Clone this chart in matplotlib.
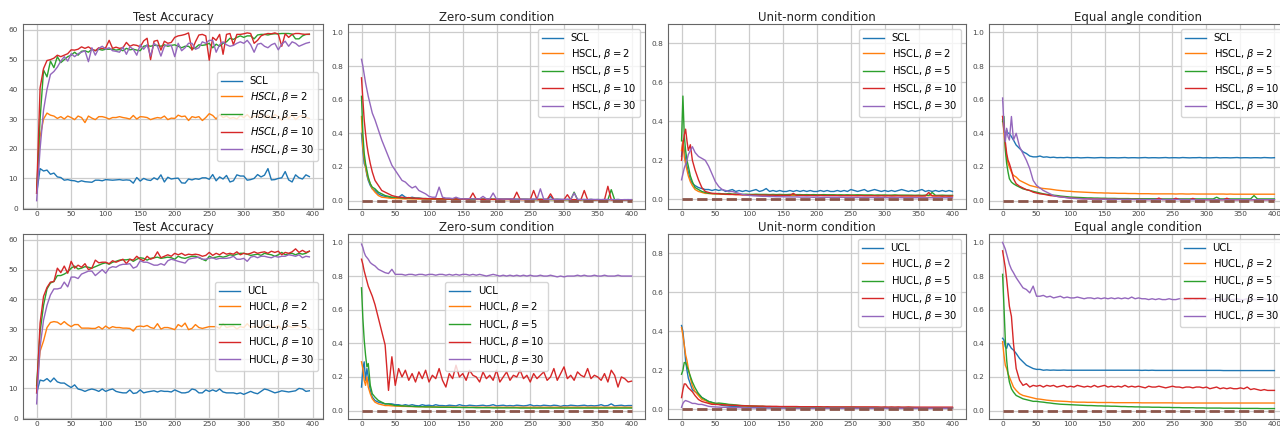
import matplotlib
matplotlib.use("Agg")
import matplotlib.pyplot as plt

# ---------------- data ----------------
epochs_acc = list(range(0, 400, 5))
epochs_cond = [0, 2, 4, 6, 8, 10, 13, 16, 20] + list(range(25, 401, 5))

titles = ["Test Accuracy", "Zero-sum condition", "Unit-norm condition", "Equal angle condition"]
betas = [2, 5, 10, 30]

# --- top row: SCL / HSCL ---
acc_scl = [5.0, 13.3, 12.5, 12.8, 11.4, 11.8, 10.5, 10.3, 9.4, 9.6,
           9.3, 9.2, 8.8, 9.2, 8.9, 8.8, 8.7, 9.4, 9.4, 9.2,
           9.6, 9.5, 9.4, 9.5, 9.6, 9.4, 9.5, 9.4, 8.4, 10.3,
           9.1, 10.0, 9.5, 9.3, 10.2, 9.6, 11.2, 8.8, 10.4, 9.8,
           10.0, 10.1, 8.5, 8.4, 9.8, 9.5, 9.9, 9.7, 10.2, 10.2,
           9.7, 11.3, 9.2, 10.5, 9.8, 11.0, 8.8, 9.2, 11.2, 10.8,
           10.8, 9.4, 9.6, 10.0, 11.3, 10.5, 11.1, 13.3, 9.5, 9.6,
           10.0, 10.2, 12.3, 9.5, 8.8, 11.2, 10.2, 9.8, 11.2, 10.6]
acc_h2 = [5.0, 24.0, 30.0, 32.0, 31.3, 31.0, 30.2, 30.8, 30.0, 31.0,
          30.5, 29.8, 31.0, 30.5, 28.8, 31.0, 30.3, 29.8, 30.8, 30.8,
          30.5, 30.0, 30.5, 30.5, 30.8, 30.5, 30.3, 30.0, 31.2, 30.0,
          30.8, 30.7, 30.5, 29.8, 30.2, 30.5, 30.3, 31.0, 29.8, 30.3,
          30.2, 31.3, 30.8, 31.0, 29.5, 30.8, 30.5, 30.8, 29.5, 30.5,
          31.8, 31.2, 30.0, 31.5, 30.5, 31.0, 30.2, 30.5, 30.0, 31.2,
          30.5, 31.5, 30.2, 31.0, 30.8, 32.0, 30.5, 31.2, 30.0, 31.5,
          30.8, 29.5, 31.0, 30.2, 31.5, 29.8, 30.8, 31.2, 30.5, 30.2]
acc_h5 = [5.5, 30.0, 46.5, 44.2, 49.5, 47.3, 51.0, 49.0, 50.0, 51.0,
          51.5, 52.5, 51.5, 52.8, 53.0, 52.5, 53.5, 53.0, 53.5, 53.2,
          53.5, 53.5, 53.5, 53.2, 53.4, 53.0, 53.8, 53.3, 53.5, 53.2,
          53.0, 54.5, 54.8, 54.5, 54.8, 54.8, 54.5, 55.0, 54.5, 54.8,
          55.0, 54.5, 54.0, 54.5, 54.5, 53.5, 54.0, 55.0, 54.8, 55.0,
          55.5, 54.0, 55.2, 54.5, 55.5, 56.0, 57.2, 56.8, 57.5, 58.0,
          57.5, 58.0, 58.0, 57.0, 58.3, 58.5, 58.5, 58.3, 58.6, 58.7,
          58.7, 58.8, 58.8, 58.8, 58.6, 57.0, 57.0, 58.0, 58.5, 58.5]
acc_h10 = [5.0, 40.5, 47.0, 49.7, 50.0, 50.5, 51.5, 51.0, 51.5, 52.0,
           53.3, 53.2, 53.5, 54.3, 53.8, 54.3, 53.5, 53.0, 54.0, 53.7,
           54.0, 56.5, 53.8, 54.2, 53.8, 54.0, 55.8, 54.5, 55.0, 54.8,
           54.3, 56.3, 57.2, 50.0, 56.2, 56.5, 53.2, 56.2, 55.5, 55.8,
           57.5, 58.0, 58.2, 58.5, 59.0, 53.2, 56.0, 58.3, 58.5, 58.0,
           49.8, 57.5, 56.5, 58.5, 51.8, 58.5, 58.8, 55.0, 58.5, 58.5,
           58.7, 59.0, 58.8, 55.5, 56.5, 58.0, 58.5, 58.8, 58.7, 59.0,
           58.6, 54.5, 58.7, 57.5, 58.5, 58.8, 58.8, 58.6, 58.5, 58.6]
acc_h30 = [2.5, 20.0, 33.0, 40.0, 45.0, 46.0, 47.5, 49.5, 51.0, 49.5,
           52.0, 51.0, 52.0, 52.5, 53.0, 49.3, 54.0, 51.5, 53.8, 54.5,
           53.5, 54.0, 53.0, 52.8, 52.5, 54.2, 51.8, 54.3, 53.5, 51.5,
           55.0, 53.5, 55.0, 51.2, 55.5, 54.5, 51.2, 54.5, 55.0, 54.8,
           51.0, 55.5, 53.0, 54.0, 55.5, 55.5, 53.5, 54.0, 56.0, 55.5,
           56.5, 56.5, 52.5, 55.0, 56.0, 55.0, 54.5, 54.8, 55.5, 56.0,
           55.5, 56.5, 55.0, 52.5, 55.2, 55.5, 54.5, 54.0, 55.0, 55.5,
           53.3, 55.2, 56.2, 54.5, 56.0, 55.5, 54.5, 55.0, 55.5, 55.8]

zs_scl = [.40, .30, .22, .20, .15, .12, .09, .07, .06,
          .04, .03, .025, .02, .018, .015, .02, .035, .02, .015,
          .02, .015, .015, .012, .01, .012, .01, .011, .009, .01,
          .01, .008, .01, .009, .012, .008, .01, .009, .008, .01,
          .008, .009, .008, .01, .007, .008, .009, .007, .008, .007,
          .008, .007, .006, .008, .007, .006, .007, .006, .008, .006,
          .007, .025, .006, .007, .006, .005, .007, .006, .005, .006,
          .005, .006, .005, .007, .005, .006, .005, .006, .005, .006,
          .005, .006, .005, .005, .006, .005]
zs_h2 = [.50, .32, .25, .20, .16, .13, .10, .07, .05,
         .03, .02, .018, .015, .013, .012, .012, .011, .01, .011,
         .01, .01, .009, .01, .009, .009, .008, .009, .008, .009,
         .008, .008, .007, .008, .007, .008, .007, .007, .008, .007,
         .007, .006, .007, .006, .007, .006, .006, .007, .006, .006,
         .006, .005, .006, .006, .005, .006, .005, .006, .005, .005,
         .005, .006, .005, .005, .004, .005, .005, .004, .005, .005,
         .004, .005, .004, .005, .004, .005, .004, .004, .005, .004,
         .004, .005, .004, .004, .005, .004]
zs_h5 = [.62, .40, .28, .22, .18, .14, .10, .08, .07,
         .05, .04, .03, .025, .02, .02, .018, .016, .015, .015,
         .014, .013, .013, .012, .012, .011, .011, .011, .010, .011,
         .010, .010, .009, .010, .009, .009, .009, .009, .008, .009,
         .008, .008, .009, .008, .008, .008, .007, .008, .007, .008,
         .007, .007, .008, .007, .007, .007, .006, .007, .007, .006,
         .007, .006, .006, .007, .006, .006, .006, .006, .05, .006,
         .006, .006, .005, .006, .005, .006, .005, .005, .005, .065,
         .005, .006, .005, .005, .005, .005]
zs_h10 = [.73, .60, .48, .40, .33, .28, .22, .17, .12,
          .09, .06, .05, .04, .03, .025, .02, .02, .015, .018,
          .015, .014, .013, .012, .012, .011, .011, .010, .011, .010,
          .010, .009, .010, .009, .009, .009, .008, .009, .045, .008,
          .008, .008, .007, .008, .007, .008, .007, .007, .008, .007,
          .007, .05, .007, .006, .007, .006, .06, .006, .006, .007,
          .006, .04, .006, .006, .005, .006, .035, .005, .006, .005,
          .005, .06, .005, .006, .005, .005, .005, .005, .085, .005,
          .005, .005, .004, .005, .005, .004]
zs_h30 = [.84, .80, .75, .70, .66, .62, .57, .52, .48,
          .42, .36, .31, .26, .21, .18, .15, .12, .11, .09,
          .075, .085, .06, .05, .04, .025, .02, .02, .08, .02,
          .015, .015, .012, .02, .012, .01, .01, .012, .01, .01,
          .01, .025, .01, .01, .045, .009, .01, .009, .009, .01,
          .009, .008, .009, .008, .008, .008, .009, .008, .07, .008,
          .008, .007, .008, .007, .008, .007, .007, .007, .045, .007,
          .007, .006, .007, .006, .007, .006, .006, .007, .006, .006,
          .006, .006, .005, .006, .005, .006]

un_scl = [.22, .30, .25, .20, .17, .14, .10, .08, .07,
          .06, .055, .05, .05, .045, .05, .045, .05, .04, .045,
          .05, .04, .045, .04, .045, .04, .045, .05, .04, .045,
          .055, .04, .045, .04, .045, .04, .04, .045, .04, .045,
          .04, .045, .04, .045, .04, .04, .045, .04, .045, .04,
          .04, .045, .04, .045, .04, .05, .045, .04, .045, .05,
          .04, .045, .05, .045, .04, .045, .04, .045, .04, .045,
          .05, .045, .04, .045, .04, .045, .05, .04, .045, .04,
          .045, .04, .045, .04, .045, .04]
un_h2 = [.25, .30, .22, .18, .15, .12, .09, .07, .05,
         .04, .035, .03, .03, .028, .028, .027, .026, .025, .025,
         .025, .024, .024, .023, .023, .023, .022, .022, .022, .022,
         .022, .021, .021, .021, .021, .021, .02, .02, .02, .02,
         .02, .02, .02, .02, .02, .02, .02, .02, .02, .02,
         .02, .02, .02, .019, .02, .019, .02, .019, .02, .019,
         .019, .02, .019, .019, .02, .019, .019, .019, .02, .019,
         .019, .019, .019, .018, .019, .019, .018, .019, .018, .019,
         .018, .019, .018, .018, .018, .018]
un_h5 = [.30, .53, .33, .25, .20, .17, .12, .09, .06,
         .05, .04, .035, .03, .03, .028, .03, .028, .027, .03,
         .026, .027, .026, .025, .026, .025, .025, .026, .025, .025,
         .025, .024, .025, .024, .025, .024, .024, .025, .024, .024,
         .024, .023, .024, .023, .024, .023, .023, .024, .023, .023,
         .023, .022, .023, .022, .023, .022, .022, .023, .022, .022,
         .022, .022, .021, .022, .021, .022, .021, .021, .022, .021,
         .021, .021, .021, .021, .02, .021, .02, .021, .02, .035,
         .02, .02, .021, .02, .02, .02]
un_h10 = [.20, .28, .33, .36, .30, .25, .28, .20, .15,
          .10, .06, .04, .035, .03, .03, .028, .027, .026, .025,
          .025, .024, .024, .023, .023, .022, .022, .022, .021, .022,
          .021, .021, .021, .02, .021, .02, .02, .02, .03, .02,
          .02, .02, .019, .02, .019, .019, .02, .019, .019, .019,
          .019, .019, .018, .019, .018, .019, .018, .018, .019, .018,
          .018, .018, .018, .017, .018, .017, .018, .017, .017, .018,
          .017, .017, .017, .017, .017, .017, .017, .017, .035, .017,
          .017, .017, .016, .017, .016, .017]
un_h30 = [.10, .13, .16, .18, .20, .23, .25, .27, .24,
          .22, .21, .20, .17, .13, .09, .065, .05, .045, .04,
          .04, .035, .03, .025, .022, .02, .018, .017, .016, .015,
          .015, .014, .014, .013, .013, .013, .012, .012, .012, .012,
          .011, .011, .011, .011, .01, .011, .01, .01, .01, .01,
          .01, .01, .01, .01, .009, .01, .009, .009, .01, .009,
          .009, .009, .009, .009, .009, .009, .008, .009, .008, .009,
          .008, .008, .008, .008, .008, .008, .008, .008, .008, .008,
          .008, .008, .008, .008, .008, .008]

ea_scl = [.48, .42, .38, .42, .40, .40, .38, .36, .33,
          .31, .29, .28, .265, .26, .26, .265, .258, .26, .256,
          .258, .255, .256, .255, .257, .255, .255, .256, .254, .255,
          .256, .255, .254, .255, .256, .255, .254, .255, .255, .254,
          .255, .256, .254, .255, .255, .254, .255, .256, .254, .255,
          .255, .254, .255, .256, .254, .255, .255, .254, .256, .255,
          .254, .255, .255, .256, .254, .255, .254, .255, .256, .254,
          .255, .255, .254, .255, .256, .254, .255, .255, .254, .255,
          .255, .254, .256, .255, .254, .255]
ea_h2 = [.50, .40, .32, .26, .22, .20, .17, .15, .14,
         .12, .11, .10, .09, .085, .08, .075, .072, .07, .068,
         .065, .062, .06, .058, .056, .055, .053, .052, .051, .05,
         .049, .048, .047, .046, .046, .045, .045, .044, .044, .043,
         .043, .043, .042, .042, .042, .041, .041, .041, .041, .040,
         .040, .040, .040, .040, .040, .040, .039, .040, .040, .039,
         .039, .040, .039, .039, .039, .039, .039, .039, .039, .039,
         .039, .038, .039, .038, .038, .038, .038, .038, .038, .038,
         .038, .038, .038, .038, .038, .038]
ea_h5 = [.47, .50, .30, .22, .17, .13, .11, .10, .09,
         .08, .07, .065, .06, .055, .05, .045, .04, .037, .035,
         .032, .03, .027, .025, .023, .021, .02, .019, .018, .017,
         .016, .016, .015, .015, .014, .014, .013, .013, .013, .012,
         .012, .012, .012, .011, .011, .011, .011, .011, .011, .011,
         .011, .01, .01, .01, .01, .01, .01, .01, .01, .01,
         .01, .01, .01, .01, .01, .01, .01, .01, .02, .01,
         .01, .01, .01, .01, .01, .01, .01, .01, .01, .03,
         .01, .01, .01, .01, .01, .01]
ea_h10 = [.50, .45, .35, .28, .24, .22, .18, .13, .10,
          .085, .075, .065, .06, .05, .045, .04, .038, .034, .03,
          .028, .025, .022, .02, .018, .015, .014, .013, .012, .011,
          .011, .01, .01, .009, .009, .009, .008, .008, .008, .008,
          .007, .007, .007, .007, .007, .007, .007, .006, .006, .006,
          .006, .015, .006, .006, .006, .006, .014, .006, .006, .006,
          .005, .013, .005, .005, .005, .005, .005, .005, .005, .005,
          .005, .014, .005, .005, .005, .005, .005, .005, .005, .005,
          .005, .005, .005, .005, .005, .005]
ea_h30 = [.61, .45, .35, .43, .38, .36, .50, .36, .40,
          .32, .28, .24, .19, .12, .09, .075, .06, .05, .04,
          .03, .025, .022, .02, .017, .015, .013, .012, .011, .01,
          .01, .009, .009, .009, .008, .008, .008, .008, .007, .007,
          .007, .007, .007, .007, .006, .006, .006, .006, .006, .006,
          .006, .006, .006, .006, .006, .006, .006, .006, .006, .006,
          .005, .005, .005, .005, .005, .005, .005, .005, .005, .005,
          .005, .005, .005, .005, .005, .005, .005, .005, .005, .005,
          .005, .005, .005, .005, .005, .005]

# --- bottom row: UCL / HUCL ---
acc_ucl = [8.5, 12.8, 12.5, 13.3, 12.2, 13.5, 12.2, 11.8, 11.8, 11.0,
           10.3, 11.2, 9.8, 9.5, 9.0, 9.5, 9.8, 9.5, 9.0, 9.8,
           9.0, 9.5, 9.8, 9.0, 8.7, 8.5, 8.5, 9.5, 8.3, 8.5,
           9.5, 8.5, 8.8, 9.0, 9.2, 8.8, 9.2, 9.0, 9.0, 8.8,
           9.5, 9.0, 8.5, 8.5, 8.8, 9.8, 9.5, 8.5, 8.5, 9.5,
           9.0, 9.5, 9.0, 9.8, 8.8, 8.5, 8.5, 8.5, 8.2, 8.5,
           8.0, 8.5, 9.0, 8.5, 8.2, 9.0, 9.8, 9.5, 9.0, 8.5,
           8.8, 9.2, 9.0, 8.8, 9.0, 9.2, 10.0, 9.8, 9.0, 9.2]
acc_hu2 = [10.5, 22.5, 26.0, 30.5, 32.2, 32.5, 32.3, 31.5, 32.5, 31.5,
           30.8, 31.5, 31.5, 30.3, 30.3, 30.3, 30.2, 30.2, 30.8, 30.0,
           31.0, 30.2, 30.8, 30.5, 30.5, 30.3, 30.3, 30.2, 29.3, 30.8,
           31.0, 30.8, 31.2, 30.5, 30.2, 31.8, 30.0, 30.5, 30.5, 30.2,
           29.8, 31.5, 30.8, 32.0, 29.8, 30.2, 31.5, 30.5, 30.2, 30.5,
           30.8, 30.8, 30.8, 30.2, 31.8, 30.5, 30.8, 31.0, 30.0, 30.8,
           30.5, 31.8, 30.5, 30.8, 31.0, 30.2, 30.8, 31.5, 31.0, 30.5,
           31.2, 30.0, 30.8, 31.0, 30.5, 30.8, 31.2, 30.5, 30.8, 30.2]
acc_hu5 = [11.0, 29.0, 38.0, 43.5, 45.5, 46.0, 48.0, 48.0, 48.5, 49.2,
           50.5, 51.2, 50.2, 50.5, 51.0, 50.8, 50.5, 51.0, 51.5, 52.0,
           52.3, 51.8, 52.5, 52.8, 53.2, 53.3, 53.3, 53.5, 52.8, 53.5,
           54.0, 53.8, 53.2, 53.8, 54.0, 54.2, 53.8, 54.0, 54.2, 54.0,
           53.5, 54.5, 54.0, 53.8, 54.2, 54.5, 54.5, 54.0, 53.5, 53.0,
           54.5, 54.0, 54.2, 54.5, 54.2, 54.5, 55.0, 54.8, 55.2, 55.5,
           55.5, 55.2, 54.8, 55.0, 55.2, 54.8, 55.5, 55.2, 55.0, 54.5,
           55.0, 55.8, 55.0, 55.3, 55.5, 55.0, 55.5, 55.2, 55.5, 56.2]
acc_hu10 = [8.5, 32.0, 41.0, 44.0, 45.8, 46.0, 50.5, 49.0, 51.2, 48.8,
            52.8, 50.5, 51.5, 50.8, 52.0, 50.0, 50.5, 53.2, 52.3, 52.5,
            52.5, 52.0, 53.0, 52.5, 53.0, 53.5, 52.0, 53.5, 53.2, 54.5,
            53.5, 53.0, 54.5, 53.5, 54.0, 56.0, 54.0, 54.5, 55.0, 54.5,
            55.5, 55.0, 55.5, 54.8, 55.2, 55.0, 55.2, 55.0, 54.5, 54.8,
            55.8, 54.8, 55.5, 55.0, 55.8, 55.2, 55.5, 55.2, 56.0, 55.0,
            55.5, 55.2, 55.5, 56.0, 55.5, 55.8, 56.0, 55.5, 56.2, 55.8,
            56.2, 55.0, 55.8, 55.5, 56.0, 57.0, 55.8, 56.5, 55.8, 56.2]
acc_hu30 = [4.8, 24.0, 33.0, 38.0, 41.5, 43.5, 43.5, 43.8, 45.8, 44.2,
            47.5, 47.5, 47.0, 48.5, 49.0, 49.5, 49.5, 48.0, 49.0, 50.0,
            48.8, 50.5, 51.0, 50.8, 51.5, 51.8, 51.8, 52.0, 50.5, 51.0,
            53.0, 52.5, 52.5, 52.0, 51.5, 51.5, 52.0, 51.5, 53.0, 53.5,
            53.2, 52.8, 52.5, 52.2, 53.5, 53.8, 54.0, 54.2, 53.5, 53.5,
            53.8, 54.0, 53.5, 53.8, 53.8, 53.8, 54.0, 54.5, 53.5, 53.5,
            53.8, 52.8, 54.2, 54.5, 54.0, 54.5, 54.5, 54.2, 54.0, 54.5,
            54.2, 54.5, 54.5, 55.0, 54.8, 54.5, 55.0, 54.0, 54.5, 54.3]

zb_ucl = [.14, .25, .29, .18, .25, .20, .12, .08, .06,
          .05, .045, .04, .04, .04, .035, .035, .03, .035, .03,
          .035, .03, .028, .035, .03, .032, .028, .035, .03, .03,
          .028, .032, .03, .028, .035, .03, .028, .032, .03, .028,
          .03, .032, .028, .03, .035, .028, .03, .032, .028, .03,
          .028, .032, .03, .028, .03, .035, .028, .03, .028, .032,
          .03, .028, .032, .03, .025, .03, .028, .032, .03, .028,
          .03, .032, .028, .03, .028, .03, .035, .028, .03, .04,
          .028, .03, .032, .028, .03, .03]
zb_h2 = [.29, .25, .18, .15, .20, .14, .10, .07, .05,
         .04, .035, .03, .03, .028, .027, .026, .025, .025, .024,
         .024, .023, .023, .023, .022, .022, .022, .022, .021, .021,
         .021, .021, .021, .02, .02, .02, .02, .02, .02, .02,
         .02, .02, .02, .02, .02, .02, .02, .02, .02, .02,
         .02, .02, .02, .02, .02, .02, .02, .02, .02, .02,
         .02, .02, .02, .02, .02, .02, .02, .02, .02, .02,
         .02, .02, .02, .02, .02, .02, .02, .02, .02, .02,
         .02, .02, .02, .02, .02, .02]
zb_h5 = [.73, .55, .42, .33, .26, .28, .15, .10, .08,
         .06, .05, .04, .04, .035, .03, .03, .028, .027, .026,
         .025, .024, .023, .023, .022, .022, .021, .021, .02, .02,
         .02, .02, .019, .019, .019, .018, .018, .018, .018, .017,
         .017, .017, .017, .017, .016, .016, .016, .016, .016, .016,
         .016, .016, .015, .015, .015, .015, .015, .015, .015, .015,
         .015, .015, .015, .015, .015, .015, .015, .015, .015, .015,
         .015, .015, .015, .015, .015, .015, .015, .015, .015, .015,
         .015, .015, .015, .015, .015, .015]
zb_h10 = [.90, .87, .83, .80, .77, .74, .71, .68, .63,
          .55, .47, .39, .12, .32, .15, .25, .20, .24, .18,
          .22, .17, .23, .19, .24, .17, .21, .19, .25, .18,
          .14, .22, .19, .27, .20, .22, .18, .24, .21, .20,
          .17, .23, .19, .21, .18, .24, .17, .20, .23, .18,
          .21, .20, .24, .19, .21, .17, .22, .19, .21, .23,
          .18, .20, .25, .18, .22, .26, .19, .21, .18, .23,
          .21, .20, .25, .19, .21, .20, .18, .22, .17, .24,
          .21, .14, .20, .19, .17, .175]
zb_h30 = [.99, .97, .94, .92, .91, .90, .88, .87, .86,
          .84, .83, .82, .815, .84, .81, .81, .81, .805, .81,
          .81, .805, .81, .81, .805, .81, .81, .805, .81, .81,
          .805, .81, .805, .81, .805, .81, .81, .805, .81, .805,
          .81, .805, .80, .805, .81, .805, .80, .805, .80, .805,
          .80, .805, .80, .805, .80, .805, .80, .80, .805, .80,
          .80, .805, .80, .795, .80, .795, .80, .80, .80, .805,
          .80, .805, .80, .80, .805, .80, .80, .805, .80, .80,
          .80, .805, .80, .80, .80, .80]

ub_ucl = [.43, .40, .33, .25, .20, .16, .13, .10, .09,
          .08, .06, .05, .04, .035, .03, .025, .02, .018, .016,
          .015, .014, .013, .012, .011, .01, .01, .009, .009, .008,
          .008, .008, .007, .007, .007, .007, .006, .006, .006, .006,
          .006, .006, .006, .006, .005, .005, .005, .005, .005, .005,
          .005, .005, .005, .005, .005, .005, .005, .005, .005, .005,
          .005, .005, .005, .005, .005, .005, .005, .005, .005, .005,
          .005, .005, .005, .005, .005, .005, .005, .005, .005, .005,
          .005, .005, .005, .005, .005, .005]
ub_h2 = [.42, .38, .33, .28, .25, .21, .16, .12, .09,
         .07, .05, .045, .035, .03, .03, .027, .025, .024, .022,
         .021, .02, .019, .018, .017, .016, .015, .015, .014, .014,
         .013, .013, .012, .012, .012, .011, .011, .011, .011, .01,
         .01, .01, .01, .01, .01, .01, .01, .01, .009, .009,
         .009, .009, .009, .009, .009, .009, .009, .009, .009, .009,
         .009, .009, .009, .008, .008, .008, .008, .008, .008, .008,
         .008, .008, .008, .008, .008, .008, .008, .008, .008, .008,
         .008, .008, .008, .008, .008, .008]
ub_h5 = [.18, .20, .24, .24, .22, .20, .17, .14, .11,
         .08, .06, .05, .04, .035, .03, .032, .03, .028, .025,
         .024, .022, .02, .019, .018, .017, .016, .016, .015, .015,
         .014, .014, .013, .013, .013, .012, .012, .012, .012, .011,
         .011, .011, .011, .011, .01, .01, .01, .01, .01, .01,
         .01, .01, .01, .01, .01, .01, .01, .009, .009, .009,
         .009, .009, .009, .009, .009, .009, .009, .009, .009, .009,
         .009, .009, .009, .009, .008, .008, .008, .008, .008, .008,
         .008, .008, .008, .008, .008, .008]
ub_h10 = [.06, .10, .13, .13, .12, .11, .10, .09, .07,
          .05, .04, .035, .03, .025, .025, .024, .023, .022, .021,
          .02, .02, .019, .018, .018, .017, .017, .016, .016, .016,
          .015, .015, .015, .015, .014, .014, .014, .014, .014, .014,
          .013, .013, .013, .013, .013, .013, .013, .012, .013, .012,
          .012, .012, .012, .012, .012, .012, .012, .012, .012, .012,
          .012, .012, .012, .012, .011, .012, .011, .012, .011, .012,
          .011, .011, .012, .011, .011, .011, .011, .011, .011, .011,
          .011, .011, .011, .011, .011, .011]
ub_h30 = [.01, .03, .04, .045, .042, .04, .035, .03, .03,
          .025, .025, .02, .015, .013, .012, .011, .01, .01, .009,
          .009, .008, .008, .008, .007, .007, .007, .007, .006, .006,
          .006, .006, .006, .006, .006, .006, .005, .005, .005, .005,
          .005, .005, .005, .005, .005, .005, .005, .005, .005, .005,
          .005, .005, .005, .005, .005, .005, .005, .005, .005, .005,
          .005, .005, .005, .005, .005, .005, .005, .005, .005, .005,
          .005, .005, .005, .005, .005, .005, .005, .005, .005, .005,
          .005, .005, .005, .005, .005, .005]

eb_ucl = [.43, .42, .38, .37, .40, .39, .37, .36, .34,
          .31, .29, .27, .26, .25, .245, .245, .24, .242, .24,
          .241, .24, .24, .241, .24, .24, .24, .24, .24, .24,
          .24, .24, .24, .24, .24, .24, .24, .24, .24, .24,
          .24, .24, .24, .24, .24, .24, .239, .24, .239, .24,
          .239, .239, .239, .239, .239, .239, .239, .239, .239, .239,
          .239, .239, .239, .239, .239, .239, .239, .239, .239, .239,
          .238, .238, .238, .238, .238, .238, .238, .238, .238, .238,
          .238, .238, .238, .238, .238, .238]
eb_h2 = [.41, .33, .27, .25, .22, .20, .17, .14, .12,
         .10, .09, .085, .08, .075, .07, .068, .065, .062, .06,
         .058, .057, .056, .055, .054, .052, .051, .05, .05, .05,
         .049, .049, .049, .048, .048, .048, .048, .048, .047, .047,
         .047, .047, .047, .047, .047, .047, .046, .046, .046, .046,
         .046, .046, .046, .046, .046, .046, .045, .045, .045, .045,
         .045, .045, .045, .045, .045, .045, .045, .045, .045, .045,
         .045, .045, .045, .045, .045, .045, .045, .045, .045, .045,
         .045, .045, .045, .045, .045, .045]
eb_h5 = [.81, .62, .42, .30, .22, .17, .13, .11, .09,
         .08, .07, .065, .06, .055, .055, .052, .05, .047, .045,
         .042, .04, .038, .037, .036, .035, .034, .033, .032, .031,
         .030, .030, .029, .028, .028, .027, .027, .026, .026, .025,
         .024, .024, .023, .023, .022, .022, .021, .021, .021, .020,
         .020, .020, .019, .019, .019, .018, .018, .018, .017, .017,
         .017, .017, .016, .016, .016, .015, .015, .015, .015, .015,
         .014, .014, .014, .014, .014, .013, .013, .013, .013, .013,
         .013, .012, .012, .012, .012, .012]
eb_h10 = [.95, .90, .85, .78, .70, .62, .56, .40, .25,
          .18, .15, .16, .14, .15, .145, .15, .14, .15, .145,
          .15, .14, .145, .15, .14, .145, .14, .15, .145, .14,
          .145, .14, .15, .14, .145, .15, .14, .145, .14, .145,
          .14, .15, .14, .145, .14, .145, .14, .135, .145, .14,
          .14, .145, .14, .135, .14, .145, .14, .14, .135, .14,
          .14, .135, .14, .14, .135, .14, .13, .135, .14, .13,
          .135, .13, .135, .13, .13, .135, .13, .14, .125, .13,
          .125, .12, .125, .12, .12, .12]
eb_h30 = [1.00, .98, .96, .93, .90, .87, .84, .82, .79,
          .76, .73, .72, .70, .74, .68, .68, .685, .675, .68,
          .67, .675, .68, .67, .675, .67, .67, .675, .67, .665,
          .67, .67, .665, .67, .665, .67, .665, .67, .665, .67,
          .665, .67, .665, .675, .665, .67, .665, .665, .66, .665,
          .66, .665, .66, .66, .665, .66, .66, .665, .665, .66,
          .66, .665, .66, .665, .66, .665, .66, .665, .66, .66,
          .66, .665, .66, .66, .665, .66, .66, .665, .66, .66,
          .66, .66, .665, .66, .66, .66]

# ---------------- plotting ----------------
colors = ["#1f77b4", "#ff7f0e", "#2ca02c", "#d62728", "#9467bd"]
target_color = "#8c564b"

rows = [
    dict(base="SCL", hard="HSCL", italic=True,
         acc=[acc_scl, acc_h2, acc_h5, acc_h10, acc_h30],
         zs=[zs_scl, zs_h2, zs_h5, zs_h10, zs_h30],
         un=[un_scl, un_h2, un_h5, un_h10, un_h30],
         ea=[ea_scl, ea_h2, ea_h5, ea_h10, ea_h30],
         legend_locs=["center right", "upper right", "upper right", "upper right"]),
    dict(base="UCL", hard="HUCL", italic=False,
         acc=[acc_ucl, acc_hu2, acc_hu5, acc_hu10, acc_hu30],
         zs=[zb_ucl, zb_h2, zb_h5, zb_h10, zb_h30],
         un=[ub_ucl, ub_h2, ub_h5, ub_h10, ub_h30],
         ea=[eb_ucl, eb_h2, eb_h5, eb_h10, eb_h30],
         legend_locs=["center right", "center", "upper right", "upper right"]),
]

W, H = 1280, 429
fig = plt.figure(figsize=(W / 100, H / 100), dpi=100)
fig.patch.set_facecolor("white")

col_px = [(23, 323), (348, 645), (668, 966), (989, 1288)]
row_px = [(24, 209), (234, 419)]

for r, row in enumerate(rows):
    for c in range(4):
        x0, x1 = col_px[c]
        y0, y1 = row_px[r]
        ax = fig.add_axes([x0 / W, 1 - y1 / H, (x1 - x0) / W, (y1 - y0) / H])
        ax.set_facecolor("white")
        ax.grid(True, color="#cccccc", linewidth=0.9)
        ax.set_axisbelow(True)
        for s in ax.spines.values():
            s.set_color("#666666")
            s.set_linewidth(0.8)
        ax.tick_params(axis="x", length=0, labelsize=5.3, colors="#444444", pad=1.2)
        ax.tick_params(axis="y", length=0, labelsize=5.3, colors="#444444", pad=3.5)

        if c == 0:
            series = row["acc"]
            xs = epochs_acc
        else:
            series = [row["zs"], row["un"], row["ea"]][c - 1]
            xs = epochs_cond

        if row["italic"] and c == 0:
            labels = [row["base"]] + [r"$%s, \beta=%d$" % (row["hard"], b) for b in betas]
        else:
            labels = [row["base"]] + [r"%s, $\beta=%d$" % (row["hard"], b) for b in betas]

        for k, ys in enumerate(series):
            ax.plot(xs, ys, color=colors[k], lw=1.0, label=labels[k])

        if c > 0:
            ax.plot([xs[0], xs[-1]], [0, 0], color=target_color, lw=2.0, ls="--")
            ax.set_ylim(-0.05, 0.9 if c == 2 else 1.05)
            ax.set_yticks([0.0, 0.2, 0.4, 0.6, 0.8] if c == 2 else [0.0, 0.2, 0.4, 0.6, 0.8, 1.0])
        else:
            ax.set_ylim(-0.3, 62)
            ax.set_yticks([0, 10, 20, 30, 40, 50, 60])
        ax.set_xticks([0, 50, 100, 150, 200, 250, 300, 350, 400])

        ax.set_title(titles[c], fontsize=8.5, color="#222222", pad=2)
        ax.legend(loc=row["legend_locs"][c], fontsize=7.2, frameon=True, fancybox=True,
                  framealpha=0.8, edgecolor="#cccccc", handlelength=2.1,
                  borderpad=0.4, labelspacing=0.36)

fig.savefig("out.png", dpi=100, facecolor="white")
